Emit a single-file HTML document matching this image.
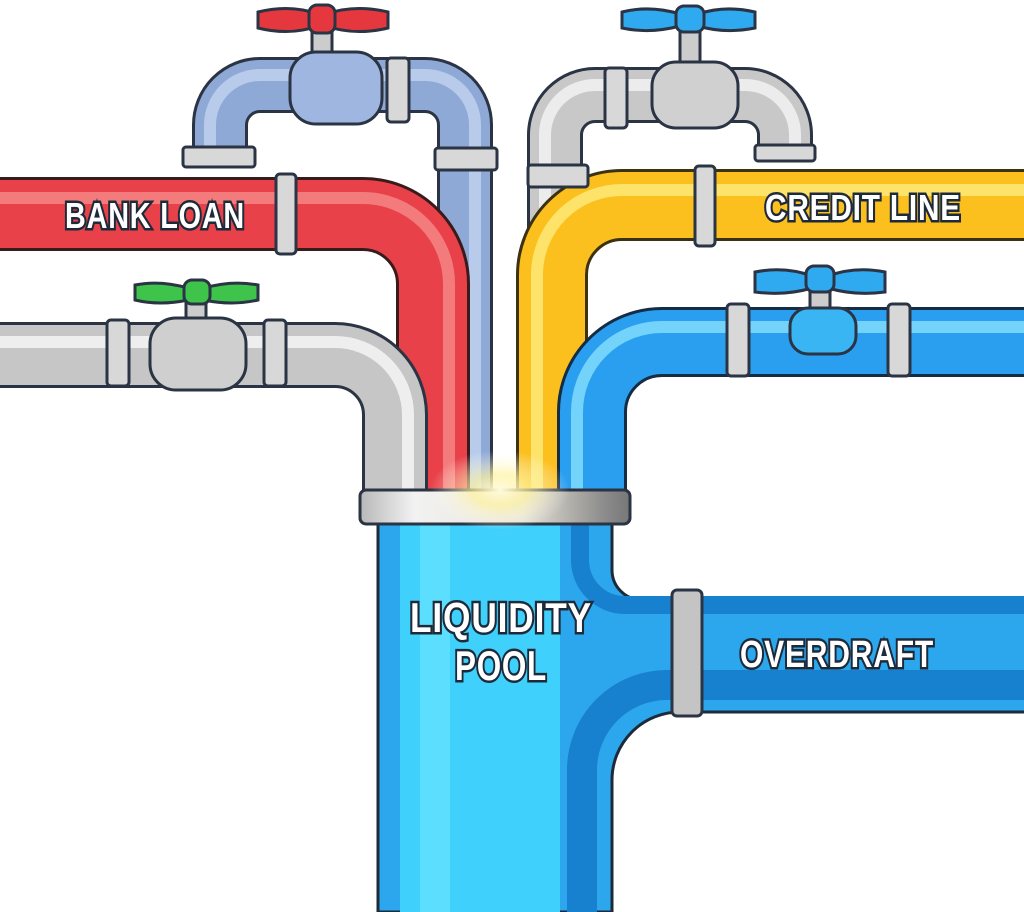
<!DOCTYPE html>
<html><head><meta charset="utf-8"><style>
html,body{margin:0;padding:0;background:#fff;width:1024px;height:912px;overflow:hidden}
svg{display:block}
.lbl{font-family:"Liberation Sans Narrow","Liberation Sans",sans-serif;font-weight:bold;fill:#fff;stroke:#1d2a3a;stroke-width:5px;paint-order:stroke;letter-spacing:1px}
</style></head><body>
<svg width="1024" height="912" viewBox="0 0 1024 912" xmlns="http://www.w3.org/2000/svg">
<defs>
<radialGradient id="glow" cx="0.5" cy="0.5" r="0.5">
<stop offset="0" stop-color="#fffbe0" stop-opacity="1"/>
<stop offset="0.4" stop-color="#fff3a0" stop-opacity="0.7"/>
<stop offset="1" stop-color="#fff" stop-opacity="0"/>
</radialGradient>
<linearGradient id="collar" x1="0" x2="1" y1="0" y2="0">
<stop offset="0" stop-color="#b8b8b8"/><stop offset="0.2" stop-color="#f2f2f2"/><stop offset="0.6" stop-color="#e8e4d8"/><stop offset="0.9" stop-color="#8d8d8d"/><stop offset="1" stop-color="#777"/>
</linearGradient>
</defs>
<g fill="none" stroke-linecap="butt">
<!-- back pipes -->
<path d="M220 150 V125 A40 40 0 0 1 260 85 H425 A40 40 0 0 1 465 125 V495" stroke="#2b3444" stroke-width="56"/>
<path d="M220 150 V125 A40 40 0 0 1 260 85 H425 A40 40 0 0 1 465 125 V495" stroke="#8fa9d6" stroke-width="50"/>
<path d="M210 150 V125 A50 50 0 0 1 260 75 H425 A50 50 0 0 1 475 125 V495" stroke="#b8cbea" stroke-width="12"/>
<path d="M555 495 V135 A40 40 0 0 1 595 95 H745 A40 40 0 0 1 785 135 V150" stroke="#2b3444" stroke-width="56"/>
<path d="M555 495 V135 A40 40 0 0 1 595 95 H745 A40 40 0 0 1 785 135 V150" stroke="#c8c8c8" stroke-width="50"/>
<path d="M545 495 V135 A50 50 0 0 1 595 85 H745 A50 50 0 0 1 795 135 V150" stroke="#ececec" stroke-width="12"/>
<!-- front pipes -->
<path d="M-5 214 H363 A70 70 0 0 1 433 284 V495" stroke="#3a1b1b" stroke-width="74"/>
<path d="M-5 214 H363 A70 70 0 0 1 433 284 V495" stroke="#e8414a" stroke-width="68"/>
<path d="M-5 198 H363 A86 86 0 0 1 449 284 V495" stroke="#f47b7c" stroke-width="12"/>
<path d="M-5 355 H335 A60 60 0 0 1 395 415 V495" stroke="#2b3444" stroke-width="66"/>
<path d="M-5 355 H335 A60 60 0 0 1 395 415 V495" stroke="#c6c6c6" stroke-width="60"/>
<path d="M-5 342 H335 A73 73 0 0 1 408 415 V495" stroke="#eeeeee" stroke-width="12"/>
<path d="M1030 205 H622 A70 70 0 0 0 552 275 V495" stroke="#3c3212" stroke-width="72"/>
<path d="M1030 205 H622 A70 70 0 0 0 552 275 V495" stroke="#fbbf1e" stroke-width="66"/>
<path d="M1030 190 H622 A85 85 0 0 0 537 275 V495" stroke="#fde36a" stroke-width="12"/>
<path d="M1030 342 H662 A70 70 0 0 0 592 412 V495" stroke="#142c44" stroke-width="70"/>
<path d="M1030 342 H662 A70 70 0 0 0 592 412 V495" stroke="#2a9ff0" stroke-width="64"/>
<path d="M1030 327 H662 A85 85 0 0 0 577 412 V495" stroke="#74d3fb" stroke-width="12"/>
</g>
<!-- fittings -->
<g stroke="#2b3444" stroke-width="3" fill="#d8d8d8">
<rect x="183" y="147" width="72" height="20" rx="3"/>
<rect x="435" y="148" width="62" height="22" rx="3"/>
<rect x="387" y="58" width="22" height="64" rx="4"/>
<rect x="276" y="174" width="20" height="80" rx="4"/>
<rect x="528" y="165" width="60" height="22" rx="3"/>
<rect x="755" y="145" width="60" height="16" rx="3"/>
<rect x="605" y="68" width="22" height="60" rx="4"/>
<rect x="695" y="166" width="20" height="80" rx="4"/>
<rect x="107" y="320" width="22" height="66" rx="4"/>
<rect x="264" y="320" width="22" height="66" rx="4"/>
<rect x="727" y="304" width="22" height="72" rx="4"/>
<rect x="888" y="304" width="22" height="72" rx="4"/>
</g>
<!-- valves -->
<g stroke="#2b3444" stroke-width="3">
<!-- red top -->
<rect x="312" y="30" width="20" height="30" fill="#ccc"/>
<path d="M258 12 Q290 4 318 14 L318 26 Q290 36 258 28 Z" fill="#e5383e"/>
<path d="M388 12 Q355 4 326 14 L326 26 Q355 36 388 28 Z" fill="#e5383e"/>
<rect x="309" y="5" width="26" height="28" rx="8" fill="#e5383e"/>
<rect x="290" y="52" width="92" height="72" rx="26" fill="#9fb6e0"/>
<!-- blue top right -->
<rect x="680" y="30" width="20" height="38" fill="#ccc"/>
<path d="M622 12 Q650 5 680 14 L680 26 Q650 34 622 28 Z" fill="#2fa9ef"/>
<path d="M755 12 Q725 5 698 14 L698 26 Q725 34 755 28 Z" fill="#2fa9ef"/>
<rect x="676" y="6" width="28" height="26" rx="8" fill="#2fa9ef"/>
<rect x="652" y="62" width="86" height="66" rx="24" fill="#d0d0d0"/>
<!-- green -->
<rect x="186" y="300" width="20" height="30" fill="#ccc"/>
<path d="M135 285 Q160 280 188 288 L188 300 Q160 306 135 300 Z" fill="#3ec44a"/>
<path d="M258 285 Q232 280 204 288 L204 300 Q232 306 258 300 Z" fill="#3ec44a"/>
<rect x="184" y="280" width="26" height="24" rx="8" fill="#3ec44a"/>
<rect x="150" y="318" width="96" height="72" rx="26" fill="#cfcfcf"/>
<!-- blue right -->
<rect x="810" y="290" width="20" height="28" fill="#ccc"/>
<path d="M755 272 Q785 266 812 276 L812 288 Q785 296 755 292 Z" fill="#2fa9ef"/>
<path d="M885 272 Q855 266 828 276 L828 288 Q855 296 885 292 Z" fill="#2fa9ef"/>
<rect x="806" y="266" width="28" height="26" rx="8" fill="#2fa9ef"/>
<rect x="790" y="308" width="66" height="46" rx="18" fill="#3ab5f3"/>
</g>
<!-- main trunk -->
<path d="M378 912 V520 H612 V570 A30 30 0 0 0 642 600 H1030 V712 H680 A68 68 0 0 0 612 780 V912 Z" fill="#2ca6ec" stroke="#1d2a3a" stroke-width="3"/>
<rect x="400" y="525" width="160" height="387" fill="#3fd0fb"/>
<rect x="420" y="525" width="30" height="387" fill="#6ae4ff" opacity="0.7"/>
<path d="M582 912 V770 A85 85 0 0 1 667 685 H1030" fill="none" stroke="#1780cf" stroke-width="30"/>
<path d="M580 525 V560 A45 45 0 0 0 625 605 H1030" fill="none" stroke="#1780cf" stroke-width="18"/>
<rect x="672" y="590" width="30" height="126" rx="5" fill="#c4c4c4" stroke="#2b3444" stroke-width="3"/>
<!-- collar -->
<rect x="360" y="490" width="270" height="34" rx="6" fill="url(#collar)" stroke="#2b3444" stroke-width="3"/>
<ellipse cx="500" cy="490" rx="70" ry="40" fill="url(#glow)"/>
<!-- labels -->
<text class="lbl" x="155" y="228" font-size="36" text-anchor="middle" textLength="180" lengthAdjust="spacingAndGlyphs">BANK LOAN</text>
<text class="lbl" x="863" y="220" font-size="36" text-anchor="middle" textLength="196" lengthAdjust="spacingAndGlyphs">CREDIT LINE</text>
<text class="lbl" x="501" y="632" font-size="42" text-anchor="middle" textLength="182" lengthAdjust="spacingAndGlyphs">LIQUIDITY</text>
<text class="lbl" x="501" y="680" font-size="42" text-anchor="middle" textLength="92" lengthAdjust="spacingAndGlyphs">POOL</text>
<text class="lbl" x="837" y="667" font-size="38" text-anchor="middle" textLength="194" lengthAdjust="spacingAndGlyphs">OVERDRAFT</text>
</svg>
</body></html>
